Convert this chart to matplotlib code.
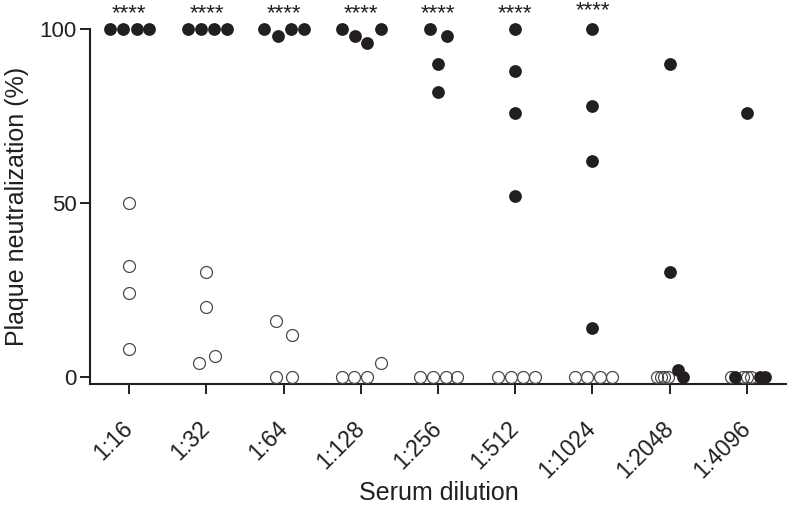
import matplotlib
matplotlib.use("Agg")
import matplotlib.pyplot as plt
import numpy as np

plt.rcParams['font.family'] = ['Liberation Sans', 'DejaVu Sans']

categories = ['1:16', '1:32', '1:64', '1:128', '1:256', '1:512', '1:1024', '1:2048', '1:4096']

# Filled circles (immune serum), per dilution
filled_values = [
    [100, 100, 100, 100],
    [100, 100, 100, 100],
    [100, 98, 100, 100],
    [100, 98, 96, 100],
    [100, 98, 90, 82],
    [100, 88, 76, 52],
    [100, 78, 62, 14],
    [90, 30, 2, 0],
    [76, 0, 0, 0],
]
# horizontal scatter offsets (category units)
filled_offsets = [
    [-0.25, -0.08, 0.095, 0.26],
    [-0.24, -0.07, 0.095, 0.27],
    [-0.25, -0.07, 0.10, 0.26],
    [-0.25, -0.08, 0.085, 0.255],
    [-0.10, 0.115, 0.0, 0.0],
    [0.0, 0.0, 0.0, 0.0],
    [0.0, 0.0, 0.0, 0.0],
    [0.0, 0.0, 0.11, 0.17],
    [0.0, -0.15, 0.165, 0.24],
]

# Open circles (control serum), per dilution
open_values = [
    [50, 32, 24, 8],
    [30, 20, 4, 6],
    [16, 12, 0, 0],
    [0, 0, 0, 4],
    [0, 0, 0, 0],
    [0, 0, 0, 0],
    [0, 0, 0, 0],
    [0, 0, 0, 0],
    [0, 0, 0, 0],
]
open_offsets = [
    [0.0, 0.0, 0.0, 0.0],
    [0.0, 0.0, -0.10, 0.11],
    [-0.095, 0.11, -0.095, 0.11],
    [-0.25, -0.085, 0.085, 0.255],
    [-0.23, -0.07, 0.10, 0.25],
    [-0.22, -0.055, 0.105, 0.255],
    [-0.22, -0.065, 0.095, 0.255],
    [-0.17, -0.115, -0.07, -0.025],
    [-0.205, -0.045, 0.008, 0.06],
]

significance = ['****', '****', '****', '****', '****', '****', '****', '', '']
sig_y = [103.0, 103.0, 103.0, 103.0, 103.0, 103.0, 103.8, 0, 0]

ink = '#231f20'

fig = plt.figure(figsize=(7.87, 5.05), dpi=100)
ax = fig.add_axes([90 / 787, 1 - 384 / 505, 697 / 787, (384 - 29.3) / 505])

for i, (vals, offs) in enumerate(zip(open_values, open_offsets)):
    ax.plot(np.array(offs) + i, vals, linestyle='none', marker='o', ms=8.6,
            mfc='none', mec='#4a4a4a', mew=0.9, clip_on=False, zorder=3)

for i, (vals, offs) in enumerate(zip(filled_values, filled_offsets)):
    ax.plot(np.array(offs) + i, vals, linestyle='none', marker='o', ms=9.2,
            mfc=ink, mec='none', clip_on=False, zorder=4)

for i, (s, y) in enumerate(zip(significance, sig_y)):
    if s:
        ax.text(i, y, s, ha='center', va='baseline', fontsize=16, color=ink,
                clip_on=False)

ax.set_xlim(-0.509, 8.52)
ax.set_ylim(-2.1, 100)
ax.set_yticks([0, 50, 100])
ax.set_xticks(range(len(categories)))
ax.set_xticklabels(categories, rotation=45, ha='right', va='center',
                   rotation_mode='anchor', fontsize=16.5, color=ink)

ax.tick_params(axis='both', length=7.5, width=1.4, color=ink, labelsize=16,
               labelcolor=ink)
ax.tick_params(axis='x', labelsize=16.5)
ax.tick_params(axis='y', pad=2)
ax.tick_params(axis='x', pad=22)

for side in ['top', 'right']:
    ax.spines[side].set_visible(False)
for side in ['left', 'bottom']:
    ax.spines[side].set_linewidth(1.5)
    ax.spines[side].set_color(ink)

ax.set_ylabel('Plaque neutralization (%)', fontsize=18, color=ink, labelpad=7.5)
ax.set_xlabel('Serum dilution', fontsize=18, color=ink, labelpad=2)
ax.xaxis.set_label_coords(0.5, -0.274)

fig.savefig('out.png', dpi=100)
